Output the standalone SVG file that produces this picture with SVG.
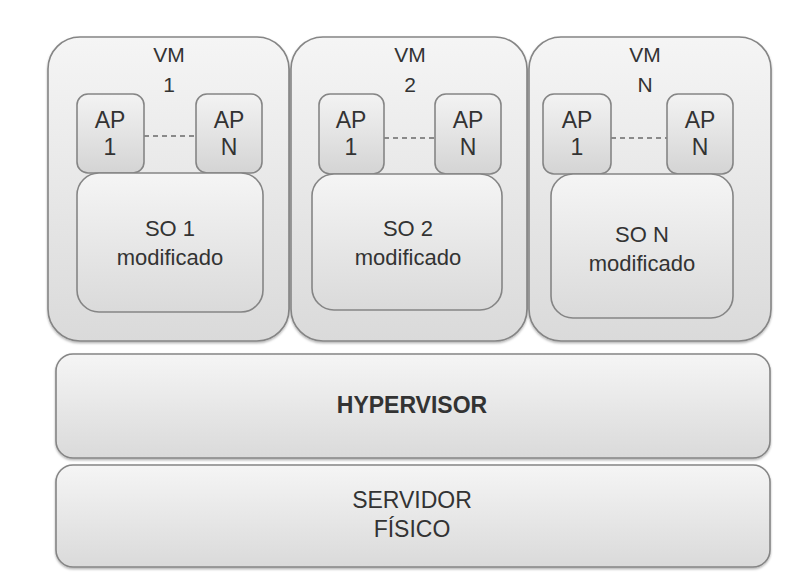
<svg xmlns="http://www.w3.org/2000/svg" width="803" height="580" viewBox="0 0 803 580">
<defs>
<linearGradient id="g" x1="0" y1="0" x2="0" y2="1">
<stop offset="0" stop-color="#f5f5f5"/>
<stop offset="1" stop-color="#dadada"/>
</linearGradient>
<linearGradient id="g2" x1="0" y1="0" x2="0" y2="1">
<stop offset="0" stop-color="#f3f3f3"/>
<stop offset="1" stop-color="#d4d4d4"/>
</linearGradient>
<filter id="sh" x="-5%" y="-5%" width="110%" height="115%">
<feDropShadow dx="0" dy="1.5" stdDeviation="1" flood-color="#000" flood-opacity="0.3"/>
</filter>
</defs>
<style>
.box{fill:url(#g);stroke:#858585;stroke-width:1.6}
.ap{fill:url(#g2);stroke:#858585;stroke-width:1.6}
.t{font-family:"Liberation Sans",Arial,sans-serif;fill:#333333;text-anchor:middle}
.vm{font-size:21px}
.a{font-size:23px}
.so{font-size:22px}
.big{font-size:23px}
.dash{stroke:#6a6a6a;stroke-width:1.6;stroke-dasharray:5,4;fill:none}
</style>
<rect width="803" height="580" fill="#ffffff"/>
<g id="vm1">
<rect class="box" x="48" y="37" width="241" height="304" rx="32" filter="url(#sh)"/>
<text class="t vm" x="169" y="62">VM</text>
<text class="t vm" x="169" y="92">1</text>
</g>
<g id="vm2">
<rect class="box" x="291" y="37" width="236" height="304" rx="32" filter="url(#sh)"/>
<text class="t vm" x="410" y="62">VM</text>
<text class="t vm" x="410" y="92">2</text>
</g>
<g id="vmN">
<rect class="box" x="529" y="37" width="242" height="304" rx="32" filter="url(#sh)"/>
<text class="t vm" x="645" y="62">VM</text>
<text class="t vm" x="645" y="92">N</text>
</g>
<g id="connectors">
<line class="dash" x1="144" y1="136" x2="196" y2="136"/>
<line class="dash" x1="384" y1="138" x2="435" y2="138"/>
<line class="dash" x1="611" y1="138" x2="667" y2="138"/>
</g>
<g id="vm1-ap1">
<rect class="ap" x="77" y="94" width="67" height="79" rx="11"/>
<text class="t a" x="110" y="128">AP</text>
<text class="t a" x="110" y="155">1</text>
</g>
<g id="vm1-apN">
<rect class="ap" x="196" y="94" width="66" height="79" rx="11"/>
<text class="t a" x="229" y="128">AP</text>
<text class="t a" x="229" y="155">N</text>
</g>
<g id="vm1-so">
<rect class="box" x="77" y="173" width="186" height="139" rx="22"/>
<text class="t so" x="170" y="236">SO 1</text>
<text class="t so" x="170" y="265">modificado</text>
</g>
<g id="vm2-ap1">
<rect class="ap" x="319" y="94" width="65" height="80" rx="11"/>
<text class="t a" x="351" y="128">AP</text>
<text class="t a" x="351" y="155">1</text>
</g>
<g id="vm2-apN">
<rect class="ap" x="435" y="94" width="66" height="80" rx="11"/>
<text class="t a" x="468" y="128">AP</text>
<text class="t a" x="468" y="155">N</text>
</g>
<g id="vm2-so">
<rect class="box" x="312" y="174" width="190" height="136" rx="22"/>
<text class="t so" x="408" y="236">SO 2</text>
<text class="t so" x="408" y="265">modificado</text>
</g>
<g id="vmN-ap1">
<rect class="ap" x="543" y="94" width="68" height="80" rx="11"/>
<text class="t a" x="577" y="128">AP</text>
<text class="t a" x="577" y="155">1</text>
</g>
<g id="vmN-apN">
<rect class="ap" x="667" y="94" width="66" height="80" rx="11"/>
<text class="t a" x="700" y="128">AP</text>
<text class="t a" x="700" y="155">N</text>
</g>
<g id="vmN-so">
<rect class="box" x="551" y="174" width="182" height="144" rx="22"/>
<text class="t so" x="642" y="242">SO N</text>
<text class="t so" x="642" y="271">modificado</text>
</g>
<g id="hypervisor">
<rect class="box" x="56" y="354" width="714" height="104" rx="17" filter="url(#sh)"/>
<text class="t big" x="412" y="413" font-weight="bold" fill="#222">HYPERVISOR</text>
</g>
<g id="servidor">
<rect class="box" x="56" y="465" width="714" height="102" rx="17" filter="url(#sh)"/>
<text class="t big" x="412" y="508">SERVIDOR</text>
<text class="t big" x="412" y="537">FÍSICO</text>
</g>
</svg>
